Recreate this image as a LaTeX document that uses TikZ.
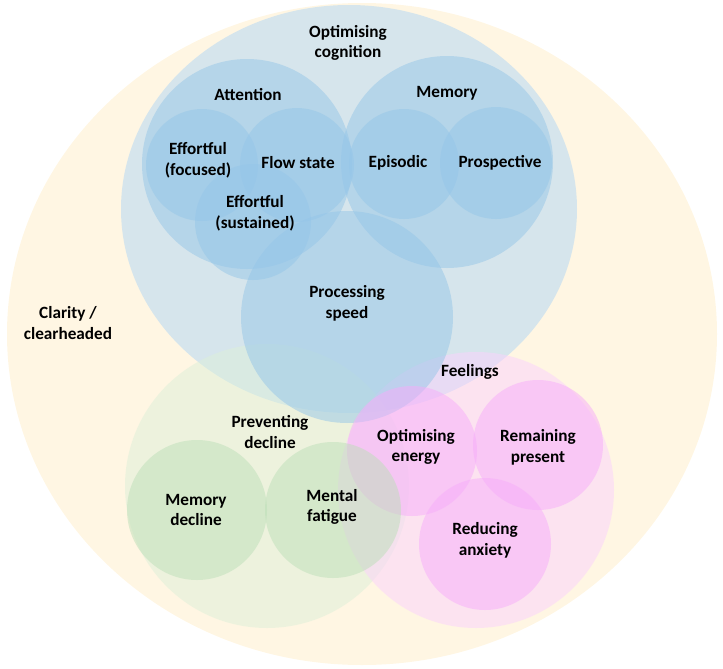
\documentclass[tikz,border=0pt]{standalone}
\usepackage{fontspec}
\setmainfont{Carlito}
\definecolor{clarityc}{RGB}{255,246,227}
\definecolor{cognc}{RGB}{175,214,245}
\definecolor{declc}{RGB}{221,240,217}
\definecolor{feelc}{RGB}{251,210,253}
\definecolor{bluec}{RGB}{149,198,232}
\definecolor{greenc}{RGB}{188,223,184}
\definecolor{pinkc}{RGB}{247,172,250}
\begin{document}
\begin{tikzpicture}[x=0.5pt,y=-0.5pt,
	lbl/.style={font=\bfseries\fontsize{8.6}{10.4}\selectfont,align=center,inner sep=0pt},
	soft/.style={fill=#1,fill opacity=.5}]
	\useasboundingbox (0,0) rectangle (723,669);
	\fill[clarityc] (362,334) ellipse [x radius=355, y radius=331];
	\fill[soft=cognc] (349,209) ellipse [x radius=228, y radius=204];
	\fill[soft=declc] (267,486) circle [radius=142];
	\fill[soft=feelc] (476,490) circle [radius=138];
	\foreach \x/\y/\r in {247/164/105,447/162/106,347/317/106,202/165/56,297/165/57,253/222/58,404/164/55,496/163/56}
		\fill[soft=bluec] (\x,\y) circle [radius=\r];
	\foreach \x/\y/\r in {412/451/65,538/445/65,485/544/66}
		\fill[soft=pinkc] (\x,\y) circle [radius=\r];
	\foreach \x/\y/\r in {197/510/70,333/510/68}
		\fill[soft=greenc] (\x,\y) circle [radius=\r];
	\node[lbl] (clarity) at (68,323) {Clarity /\\clearheaded};
	\node[lbl] (cognition) at (348,43) {Optimising\\cognition};
	\node[lbl] (attention) at (248,95) {Attention};
	\node[lbl] (memory) at (447,93) {Memory};
	\node[lbl] (focused) at (198,160) {Effortful\\(focused)};
	\node[lbl] (flow) at (298,163) {Flow state};
	\node[lbl] (sustained) at (255,213) {Effortful\\(sustained)};
	\node[lbl] (episodic) at (398,163) {Episodic};
	\node[lbl] (prospective) at (500,163) {Prospective};
	\node[lbl] (speed) at (347,303) {Processing\\speed};
	\node[lbl] (decline) at (270,432) {Preventing\\decline};
	\node[lbl] (memdecline) at (196,510) {Memory\\decline};
	\node[lbl] (fatigue) at (332,507) {Mental\\fatigue};
	\node[lbl] (feelings) at (470,372) {Feelings};
	\node[lbl] (energy) at (416,447) {Optimising\\energy};
	\node[lbl] (present) at (538,447) {Remaining\\present};
	\node[lbl] (anxiety) at (485,540) {Reducing\\anxiety};
\end{tikzpicture}
\end{document}
